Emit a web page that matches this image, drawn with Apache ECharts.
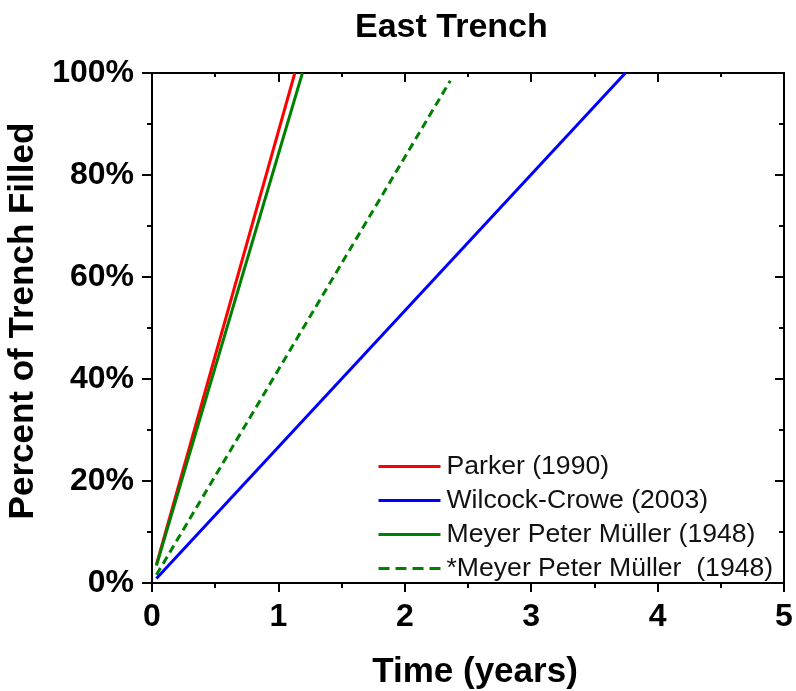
<!DOCTYPE html>
<html>
<head>
<meta charset="utf-8">
<script src="https://cdn.jsdelivr.net/npm/echarts@6/dist/echarts.min.js"></script>
<style>
  html, body { margin: 0; padding: 0; background: #fff; }
  #chart { width: 796px; height: 691px; }
</style>
</head>
<body>
<div id="chart"></div>
<script>
// Trench infill over time, one straight run per transport formula
const seriesNames = [
  'Parker (1990)',
  'Wilcock-Crowe (2003)',
  'Meyer Peter Müller (1948)',
  '*Meyer Peter Müller  (1948)'
];
const parkerYears = [0.035, 1.13];
const parkerPct = [3.6, 100];
const wilcockYears = [0.035, 3.745];
const wilcockPct = [0.9, 100];
const mpmYears = [0.035, 1.19];
const mpmPct = [3.4, 100];
const mpmAltYears = [0.035, 2.36];
const mpmAltPct = [1.6, 98.5];

const xTicks = [0, 1, 2, 3, 4, 5];
const yTicks = [0, 20, 40, 60, 80, 100];

const FONT = 'Arial, "Liberation Sans", sans-serif';

function pairs(xs, ys) {
  return xs.map((x, i) => [x, ys[i]]);
}

const chart = echarts.init(document.getElementById('chart'), null, { renderer: 'canvas' });

const axisLine = { show: true, onZero: false, lineStyle: { color: '#000', width: 2 } };

chart.setOption({
  animation: false,
  backgroundColor: '#ffffff',
  title: {
    text: 'East Trench',
    left: 355,
    top: 11,
    padding: 0,
    textStyle: { fontFamily: FONT, fontWeight: 'bold', fontSize: 34, color: '#000' }
  },
  legend: {
    orient: 'vertical',
    left: 377,
    top: 453,
    padding: 0,
    itemWidth: 62,
    itemHeight: 14,
    itemGap: 7,
    itemStyle: { opacity: 0 },
    lineStyle: { width: 3 },
    textStyle: { fontFamily: FONT, fontSize: 26.6, color: '#111', lineHeight: 26, padding: [0, 0, 0, 1] },
    data: [
      { name: seriesNames[0] },
      { name: seriesNames[1] },
      { name: seriesNames[2] },
      { name: seriesNames[3], lineStyle: { type: [11, 6] } }
    ]
  },
  grid: { left: 152, right: 12, top: 73, bottom: 108, containLabel: false, outerBoundsMode: 'none' },
  xAxis: [
    {
      type: 'value',
      min: xTicks[0],
      max: xTicks[xTicks.length - 1],
      interval: 1,
      position: 'bottom',
      name: 'Time (years)',
      nameLocation: 'middle',
      nameGap: 72,
      nameTextStyle: { fontFamily: FONT, fontWeight: 'bold', fontSize: 35, color: '#000', padding: [0, 0, 0, 14] },
      axisLine: axisLine,
      axisTick: { show: true, inside: false, length: 9, lineStyle: { color: '#000', width: 2 } },
      minorTick: { show: true, splitNumber: 2, length: 5, lineStyle: { color: '#000', width: 2 } },
      axisLabel: { margin: 18, fontFamily: FONT, fontWeight: 'bold', fontSize: 32, color: '#000' },
      splitLine: { show: false }
    },
    {
      type: 'value',
      min: xTicks[0],
      max: xTicks[xTicks.length - 1],
      interval: 1,
      position: 'top',
      axisLine: axisLine,
      axisTick: { show: true, inside: true, length: 9, lineStyle: { color: '#000', width: 2 } },
      minorTick: { show: true, splitNumber: 2, length: 4, lineStyle: { color: '#000', width: 2 } },
      axisLabel: { show: false },
      splitLine: { show: false }
    }
  ],
  yAxis: [
    {
      type: 'value',
      min: yTicks[0],
      max: yTicks[yTicks.length - 1],
      interval: 20,
      position: 'left',
      name: 'Percent of Trench Filled',
      nameLocation: 'middle',
      nameRotate: 90,
      nameGap: 101,
      nameTextStyle: { fontFamily: FONT, fontWeight: 'bold', fontSize: 35, color: '#000', padding: [0, 0, 0, 14] },
      axisLine: axisLine,
      axisTick: { show: true, inside: false, length: 10, lineStyle: { color: '#000', width: 2 } },
      minorTick: { show: true, splitNumber: 2, length: 5, lineStyle: { color: '#000', width: 2 } },
      axisLabel: { margin: 18, formatter: '{value}%', fontFamily: FONT, fontWeight: 'bold', fontSize: 32, color: '#000' },
      splitLine: { show: false }
    },
    {
      type: 'value',
      min: yTicks[0],
      max: yTicks[yTicks.length - 1],
      interval: 20,
      position: 'right',
      axisLine: axisLine,
      axisTick: { show: true, inside: true, length: 9, lineStyle: { color: '#000', width: 2 } },
      minorTick: { show: true, splitNumber: 2, length: 5, lineStyle: { color: '#000', width: 2 } },
      axisLabel: { show: false },
      splitLine: { show: false }
    }
  ],
  series: [
    {
      name: seriesNames[0], type: 'line', symbol: 'none', z: 3,
      lineStyle: { color: '#ff0000', width: 3 }, itemStyle: { color: '#ff0000' },
      data: pairs(parkerYears, parkerPct)
    },
    {
      name: seriesNames[1], type: 'line', symbol: 'none', z: 3,
      lineStyle: { color: '#0000ff', width: 3 }, itemStyle: { color: '#0000ff' },
      data: pairs(wilcockYears, wilcockPct)
    },
    {
      name: seriesNames[2], type: 'line', symbol: 'none', z: 4,
      lineStyle: { color: '#008000', width: 3 }, itemStyle: { color: '#008000' },
      data: pairs(mpmYears, mpmPct)
    },
    {
      name: seriesNames[3], type: 'line', symbol: 'none', z: 3,
      lineStyle: { color: '#008000', width: 3, type: [8, 5] }, itemStyle: { color: '#008000' },
      data: pairs(mpmAltYears, mpmAltPct)
    }
  ]
});
</script>
</body>
</html>
